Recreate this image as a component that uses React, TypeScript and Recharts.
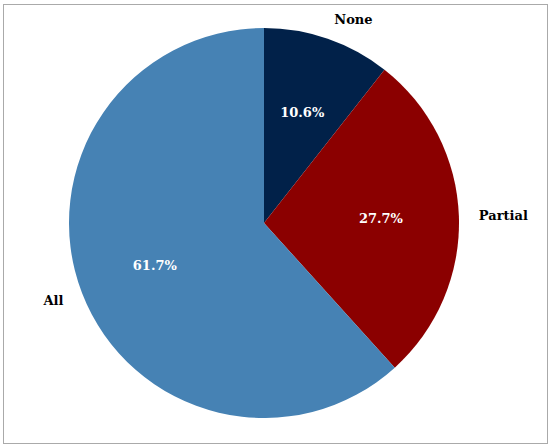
import React from "react";
import { PieChart, Pie, Cell } from "recharts";

const categories = ["None", "Partial", "All"];
const shares = [10.6, 27.7, 61.7];
const colors = ["#012149", "#8b0000", "#4682b4"];

const data = categories.map((name, i) => ({ name, value: shares[i] }));

const RAD = Math.PI / 180;
const FONT = "'DejaVu Serif', serif";

const renderLabel = (props: any) => {
  const { cx, cy, midAngle, outerRadius, name, value, index } = props;
  const cos = Math.cos(-midAngle * RAD);
  const sin = Math.sin(-midAngle * RAD);
  const rIn = outerRadius * 0.6;
  const rOut = outerRadius + 20;
  const ix = cx + rIn * cos;
  const iy = cy + rIn * sin;
  const ox = cx + rOut * cos;
  const oy = cy + rOut * sin;
  return (
    <g key={`lbl-${index}`}>
      <text x={ix} y={iy} fill="#ffffff" textAnchor="middle" dominantBaseline="central" fontFamily={FONT} fontWeight="bold" fontSize={13}>
        {`${Number(value).toFixed(1)}%`}
      </text>
      <text x={ox} y={oy} fill="#000000" textAnchor={cos >= 0 ? "start" : "end"} dominantBaseline="central" fontFamily={FONT} fontWeight="bold" fontSize={13}>
        {name}
      </text>
    </g>
  );
};

export default function App() {
  return (
    <div style={{ position: "absolute", left: 0, top: 0, width: 550, height: 447, background: "#fff" }}>
      <div style={{ position: "absolute", left: 3, top: 4, width: 543, height: 438, border: "1px solid #aaaaaa" }} />
      <div style={{ position: "absolute", left: 0, top: 0 }}>
        <PieChart width={550} height={447} margin={{ top: 0, right: 0, bottom: 0, left: 0 }}>
          <Pie
            data={data}
            dataKey="value"
            nameKey="name"
            cx={264}
            cy={223}
            outerRadius={195}
            startAngle={90}
            endAngle={-270}
            stroke="none"
            label={renderLabel}
            labelLine={false}
            isAnimationActive={false}
          >
            {data.map((d, i) => (
              <Cell key={d.name} fill={colors[i]} />
            ))}
          </Pie>
        </PieChart>
      </div>
    </div>
  );
}
